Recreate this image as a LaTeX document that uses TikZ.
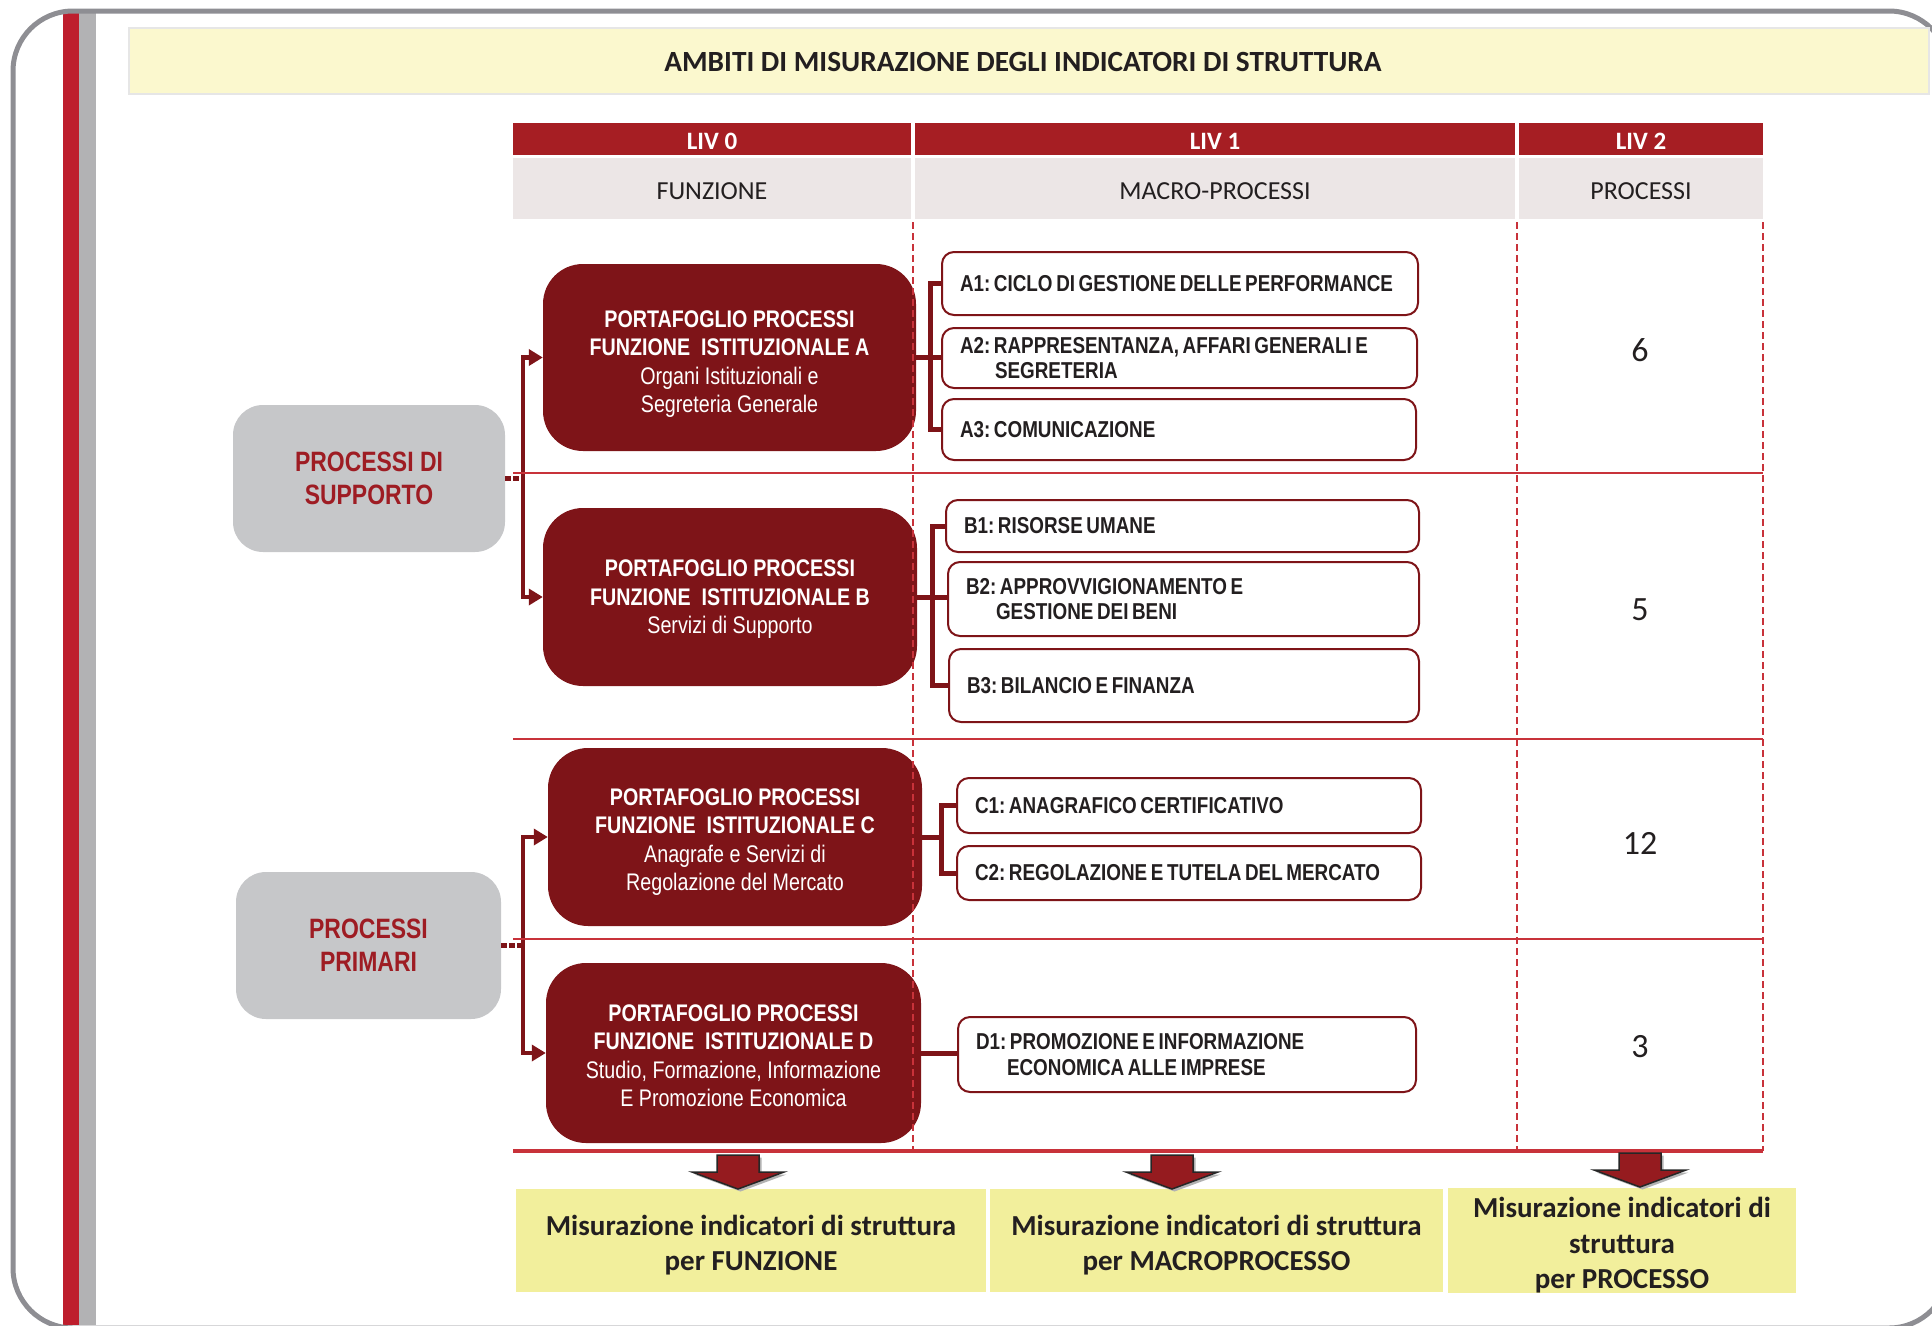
\documentclass[tikz,border=0pt]{standalone}
\usepackage{fontspec}
\setmainfont{Carlito}
\newfontfamily\narrowfont[FakeStretch=0.82]{Liberation Sans}
\usetikzlibrary{arrows.meta,calc}

\definecolor{frameGray}{HTML}{8E8E93}
\definecolor{barRed}{HTML}{BE1E2D}
\definecolor{barGray}{HTML}{B2B2B4}
\definecolor{titleFill}{HTML}{FBF8CE}
\definecolor{titleLine}{HTML}{E6E6E6}
\definecolor{hdrRed}{HTML}{A61E23}
\definecolor{hdrGray}{HTML}{ECE6E6}
\definecolor{gridRed}{HTML}{C8323A}
\definecolor{darkRed}{HTML}{7E1418}
\definecolor{groupGray}{HTML}{C6C7C9}
\definecolor{groupText}{HTML}{9E1C23}
\definecolor{textDark}{HTML}{231F20}
\definecolor{outFill}{HTML}{F2EF9C}
\definecolor{arrowRed}{HTML}{951B1F}

% invisible strut that raises the top of a first text line
\newcommand{\toppad}[1]{\rule{0pt}{#1}}
% tight, unhyphenated setting for the macro-process labels
\newcommand{\tightlabels}{\hyphenpenalty=10000\relax\exhyphenpenalty=10000\relax
  \frenchspacing\spaceskip=3.6pt plus 1pt minus 0.5pt\relax}

\begin{document}
\begin{tikzpicture}[x=1pt,y=-1pt,
  titleband/.style={fill=titleFill, draw=titleLine, line width=1.5pt, inner sep=0pt,
    minimum width=1800pt, minimum height=66pt},
  titletext/.style={text=textDark, inner sep=0pt,
    font=\bfseries\fontsize{29.3}{34}\selectfont},
  hdrcell/.style={fill=hdrRed, text=white, inner sep=0pt, minimum height=32pt,
    text height=21pt, text depth=0pt,
    font=\bfseries\fontsize{25}{30}\selectfont},
  subcell/.style={fill=hdrGray, text=textDark, inner sep=0pt, minimum height=61pt,
    text height=21.7pt, text depth=0pt,
    font=\fontsize{26}{30}\selectfont},
  groupbox/.style={fill=groupGray, rounded corners=30pt, text=groupText, align=center,
    inner sep=0pt, font=\narrowfont\bfseries\fontsize{28}{33}\selectfont},
  funcbox/.style={fill=darkRed, rounded corners=40pt, text=white, align=center,
    inner sep=0pt, font=\narrowfont\fontsize{24}{28.5}\selectfont},
  macrobox/.style={draw=darkRed, line width=2pt, fill=white, rounded corners=12pt,
    anchor=west, align=left, inner xsep=18pt, inner ysep=0pt, text=textDark,
    font=\narrowfont\bfseries\fontsize{23}{25.5}\selectfont,
    execute at begin node=\tightlabels},
  countlabel/.style={text=textDark, inner sep=0pt, font=\fontsize{34}{40}\selectfont},
  outbox/.style={fill=outFill, text=textDark, align=center, inner sep=0pt,
    minimum height=103pt, font=\bfseries\fontsize{29}{35.5}\selectfont},
  conn/.style={draw=darkRed, line width=4.5pt},
  bracket/.style={draw=darkRed, line width=5pt},
  hgrid/.style={draw=gridRed, line width=2.5pt},
  vgrid/.style={draw=gridRed, line width=2pt, dash pattern=on 7pt off 4pt},
  pics/downarrow/.style={code={
    \fill[black!30] (2.5,2.5) -- (23.5,2.5) -- (23.5,19.5) -- (48.5,19.5) -- (2.5,36.5)
      -- (-43.5,19.5) -- (-18.5,19.5) -- cycle;
    \filldraw[fill=arrowRed, draw=black!85, line width=1.5pt]
      (-21,0) -- (21,0) -- (21,17) -- (46,17) -- (0,34) -- (-46,17) -- (-21,17) -- cycle;
  }}
]
\useasboundingbox (0,0) rectangle (1932,1325);
\clip (0,0) rectangle (1932,1325);

% page decoration: side stripes and rounded frame
\fill[barRed] (63,11) rectangle (79,1325);
\fill[barGray] (79,11) rectangle (96,1325);
\draw[frameGray, line width=5pt, rounded corners=60pt] (13,11) rectangle (1949,1328);

% title band
\node[titleband] (title) at (1029,61) {};
\node[titletext] (titlelabel) at (1023,62) {AMBITI DI MISURAZIONE DEGLI INDICATORI DI STRUTTURA};

% table header
\node[hdrcell, minimum width=398pt] (h0) at (712,139) {LIV 0};
\node[hdrcell, minimum width=600pt] (h1) at (1215,139) {LIV 1};
\node[hdrcell, minimum width=244pt] (h2) at (1641,139) {LIV 2};
\node[subcell, minimum width=398pt] (s0) at (712,188.5) {FUNZIONE};
\node[subcell, minimum width=600pt] (s1) at (1215,188.5) {MACRO-PROCESSI};
\node[subcell, minimum width=244pt] (s2) at (1641,188.5) {PROCESSI};

% process groups
\node[groupbox, minimum width=272pt, minimum height=147pt] (gS) at (369,478.5) {PROCESSI DI\\SUPPORTO};
\node[groupbox, minimum width=265pt, minimum height=147pt] (gP) at (368.5,945.5) {PROCESSI\\PRIMARI};

% functions (LIV 0)
\node[funcbox, minimum width=373pt, minimum height=187pt] (fA) at (729.5,357.5)
  {\toppad{29.5pt}\textbf{PORTAFOGLIO PROCESSI}\\\textbf{FUNZIONE\ \ ISTITUZIONALE A}\\Organi Istituzionali e\\Segreteria Generale};
\node[funcbox, minimum width=374pt, minimum height=178pt] (fB) at (730,597)
  {\toppad{21pt}\textbf{PORTAFOGLIO PROCESSI}\\\textbf{FUNZIONE\ \ ISTITUZIONALE B}\\Servizi di Supporto};
\node[funcbox, minimum width=374pt, minimum height=178pt] (fC) at (735,837)
  {\toppad{26.5pt}\textbf{PORTAFOGLIO PROCESSI}\\\textbf{FUNZIONE\ \ ISTITUZIONALE C}\\Anagrafe e Servizi di\\Regolazione del Mercato};
\node[funcbox, minimum width=375pt, minimum height=180pt] (fD) at (733.5,1053)
  {\toppad{22.5pt}\textbf{PORTAFOGLIO PROCESSI}\\\textbf{FUNZIONE\ \ ISTITUZIONALE D}\\Studio, Formazione, Informazione\\E Promozione Economica};

% macro-processes (LIV 1)
\node[macrobox, text width=440pt, minimum height=63pt] (mA1) at (941,283.5) {\mbox{A1: CICLO DI GESTIONE DELLE PERFORMANCE}};
\node[macrobox, text width=439pt, minimum height=60pt] (mA2) at (941,358) {A2: RAPPRESENTANZA, AFFARI GENERALI E\\\hspace*{35pt}SEGRETERIA};
\node[macrobox, text width=438pt, minimum height=61pt] (mA3) at (941,429.5) {A3: COMUNICAZIONE};
\node[macrobox, text width=437pt, minimum height=52pt] (mB1) at (945,526) {B1: RISORSE UMANE};
\node[macrobox, text width=435pt, minimum height=74pt] (mB2) at (947,599) {B2: APPROVVIGIONAMENTO E\\\hspace*{30pt}GESTIONE DEI BENI};
\node[macrobox, text width=434pt, minimum height=73pt] (mB3) at (948,685.5) {B3: BILANCIO E FINANZA};
\node[macrobox, text width=428pt, minimum height=55pt] (mC1) at (956,805.5) {C1: ANAGRAFICO CERTIFICATIVO};
\node[macrobox, text width=428pt, minimum height=54pt] (mC2) at (956,873) {C2: REGOLAZIONE E TUTELA DEL MERCATO};
\node[macrobox, text width=422pt, minimum height=75pt] (mD1) at (957,1054.5) {D1: PROMOZIONE E INFORMAZIONE\\\hspace*{31pt}ECONOMICA ALLE IMPRESE};

% group -> function connectors
\draw[conn, dash pattern=on 6pt off 2pt] (gS.east) -- ++(18,0) coordinate (jS);
\draw[conn, -{Triangle[length=14pt,width=16pt]}] (jS) |- (fA.west);
\draw[conn, -{Triangle[length=14pt,width=16pt]}] (jS) |- (fB.west);
\draw[conn, dash pattern=on 6pt off 2pt] (gP.east) -- ++(22,0) coordinate (jP);
\draw[conn, -{Triangle[length=14pt,width=16pt]}] (jP) |- (fC.west);
\draw[conn, -{Triangle[length=14pt,width=16pt]}] (jP) |- (fD.west);

% function -> macro-process brackets
\coordinate (jA) at ($(mA1.west)+(-11,0)$);
\draw[bracket] (mA1.west) -- (jA) |- (mA3.west);
\draw[bracket] (fA.east) -- (fA.east -| mA2.west);
\coordinate (jB) at ($(mB1.west)+(-13,0)$);
\draw[bracket] (mB1.west) -- (jB) |- (mB3.west);
\draw[bracket] (fB.east) -- (fB.east -| mB2.west);
\coordinate (jC) at ($(mC1.west)+(-15,0)$);
\draw[bracket] (mC1.west) -- (jC) |- (mC2.west);
\draw[bracket] (fC.east) -- (fC.east -| jC);
\draw[bracket] (fD.east) -- (fD.east -| mD1.west);

% table grid
\draw[vgrid] (913,222) -- (913,1151);
\draw[vgrid] (1517,222) -- (1517,1151);
\draw[vgrid] (1763,222) -- (1763,1151);
\draw[hgrid] (513,473) -- (1763,473);
\draw[hgrid] (513,739) -- (1763,739);
\draw[hgrid] (513,939) -- (1763,939);
\draw[hgrid, line width=4pt] (513,1151) -- (1763,1151);

% process counts (LIV 2)
\node[countlabel] (n1) at (1640,350) {6};
\node[countlabel] (n2) at (1640,610) {5};
\node[countlabel] (n3) at (1640,843) {12};
\node[countlabel] (n4) at (1640,1047) {3};

% measurement outputs
\node[outbox, minimum width=470pt] (o1) at (751,1240.5) {\toppad{29.5pt}Misurazione indicatori di struttura\\per FUNZIONE};
\node[outbox, minimum width=453pt] (o2) at (1216.5,1240.5) {\toppad{29.5pt}Misurazione indicatori di struttura\\per MACROPROCESSO};
\node[outbox, minimum width=348pt] (o3) at (1622,1240.5) {\toppad{30pt}Misurazione indicatori di\\struttura\\per PROCESSO};

\pic at (738,1155) {downarrow};
\pic at (1172,1155) {downarrow};
\pic at (1640,1153) {downarrow};
\end{tikzpicture}
\end{document}
